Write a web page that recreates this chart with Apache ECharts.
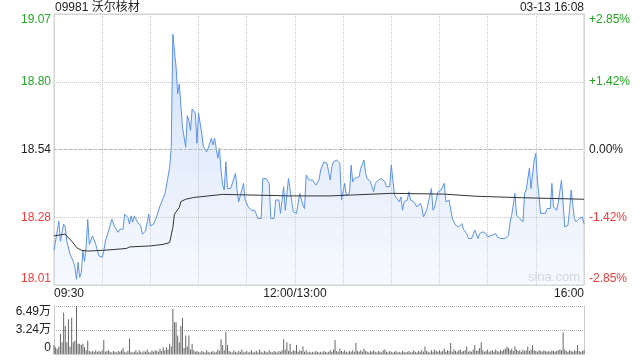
<!DOCTYPE html>
<html>
<head>
<meta charset="utf-8">
<script src="https://cdn.jsdelivr.net/npm/echarts@6/dist/echarts.min.js"></script>
<style>
html,body{margin:0;padding:0;background:#fff;}
#chart{width:640px;height:360px;}
</style>
</head>
<body>
<div id="chart"></div>
<script>
// ---- data ----
const stockTitle = '09981 沃尔核材';
const stampText = '03-13 16:08';
const prevClose = 18.54;

// minutes since 09:30 (lunch break removed: 150 = 12:00/13:00, 330 = 16:00)
const priceMinutes = [0,3,4,6,7,8,10,12,13,14,15,16,17,18,19,20,21,22,24,26,27,28,30,31,32,34,36,38,40,41,43,44,46,47,48,49,50,52,54,55,57,59,60,62,64,66,67,69,70,72,73,74,76,77,78,80,81,82,83,84,85,86,88,89,90,92,93,95,96,98,99,100,102,103,104,105,106,107,108,110,111,113,114,115,116,118,119,120,121,123,125,127,129,130,132,134,135,137,138,140,141,143,144,145,146,147,149,150,151,153,154,155,156,157,159,161,163,165,166,168,170,172,173,174,176,177,178,179,180,181,182,184,185,186,187,188,190,191,193,194,195,197,198,199,200,202,204,205,206,207,209,210,211,212,213,215,216,217,218,220,221,222,224,225,226,228,229,230,232,233,235,236,237,238,239,241,243,244,245,246,248,249,250,252,253,254,255,257,258,260,262,263,264,265,267,268,269,270,271,273,274,275,276,277,278,281,283,284,285,286,287,288,289,290,291,292,293,294,295,296,297,298,299,300,301,303,304,306,307,309,310,311,312,313,314,316,317,318,319,320,321,322,323,324,325,327,328,329,330];
const prices = [18.147,18.260,18.182,18.249,18.237,18.182,18.131,18.104,18.081,18.034,18.100,18.041,18.061,18.144,18.104,18.159,18.268,18.170,18.203,18.170,18.170,18.125,18.120,18.144,18.183,18.222,18.268,18.236,18.217,18.229,18.229,18.288,18.275,18.249,18.281,18.257,18.281,18.257,18.242,18.210,18.222,18.288,18.242,18.249,18.281,18.320,18.315,18.366,18.398,18.470,18.549,18.989,18.862,18.757,18.796,18.627,18.624,18.549,18.672,18.653,18.614,18.698,18.682,18.564,18.682,18.603,18.551,18.531,18.545,18.584,18.558,18.584,18.506,18.545,18.460,18.401,18.382,18.492,18.388,18.388,18.382,18.447,18.382,18.336,18.330,18.408,18.343,18.343,18.316,18.303,18.303,18.271,18.271,18.427,18.427,18.408,18.271,18.271,18.343,18.343,18.291,18.395,18.303,18.303,18.427,18.427,18.297,18.291,18.291,18.369,18.362,18.323,18.310,18.440,18.421,18.421,18.401,18.421,18.460,18.492,18.486,18.421,18.473,18.492,18.499,18.499,18.486,18.343,18.343,18.408,18.362,18.369,18.479,18.414,18.427,18.421,18.434,18.467,18.499,18.447,18.427,18.414,18.395,18.375,18.408,18.421,18.427,18.427,18.414,18.395,18.395,18.479,18.479,18.362,18.369,18.336,18.355,18.303,18.336,18.343,18.375,18.343,18.336,18.343,18.316,18.330,18.316,18.277,18.303,18.303,18.388,18.303,18.316,18.316,18.375,18.382,18.408,18.336,18.336,18.343,18.271,18.277,18.245,18.238,18.238,18.251,18.228,18.212,18.193,18.193,18.225,18.225,18.193,18.212,18.219,18.225,18.212,18.199,18.206,18.206,18.212,18.212,18.199,18.206,18.193,18.193,18.206,18.258,18.284,18.277,18.369,18.284,18.277,18.271,18.264,18.258,18.369,18.382,18.375,18.467,18.388,18.388,18.499,18.525,18.421,18.291,18.297,18.291,18.310,18.310,18.408,18.316,18.323,18.303,18.336,18.421,18.421,18.238,18.245,18.245,18.303,18.382,18.382,18.271,18.258,18.271,18.264,18.277,18.251];

const avgMinutes = [0,7,8,11,14,17,21,31,45,47,60,68,72,74,75,78,79,82,87,105,147,172,210,243,262,291,330];
const avgPrices = [18.203,18.210,18.202,18.183,18.158,18.147,18.144,18.147,18.154,18.160,18.164,18.170,18.177,18.236,18.288,18.314,18.337,18.346,18.353,18.365,18.359,18.359,18.369,18.366,18.358,18.352,18.346];

// volume per minute, in 万 shares (index = minute)
const volumes = [
 1.2,0.9,0.7,1.0,2.7,1.6,5.6,3.8,1.6,4.7,
 1.0,4.9,1.6,1.8,6.49,1.4,1.4,1.2,1.4,0.9,
 0.5,1.8,0.4,0.3,0.4,0.3,0.5,0.3,0.4,0.3,
 0.5,1.9,0.3,0.4,0.5,0.3,0.2,0.4,0.3,0.2,
 0.4,0.3,0.5,0.8,0.3,0.2,0.4,2.1,0.3,0.2,
 0.3,0.5,0.2,0.5,0.3,0.2,0.4,0.3,0.6,0.3,
 0.2,0.5,0.3,0.5,0.4,0.3,0.7,0.4,0.9,0.5,
 0.9,0.6,1.4,1.0,6.1,4.3,4.3,2.5,1.6,3.8,
 4.9,0.8,2.5,1.0,2.5,0.6,1.4,0.5,0.3,0.4,
 0.3,0.2,0.4,0.3,0.2,0.5,0.3,0.2,0.3,0.4,
 0.2,0.3,0.6,0.4,2.0,1.2,0.5,3.0,1.2,0.4,
 0.3,0.2,0.5,0.3,0.2,0.4,0.3,0.6,0.2,0.3,
 0.4,0.2,0.3,0.5,0.2,0.3,0.4,0.2,0.6,0.3,
 0.2,0.4,0.3,0.2,0.5,0.3,0.2,0.4,0.3,0.2,
 0.4,0.3,0.5,2.0,0.6,1.6,0.4,1.4,0.3,0.5,
 0.4,1.2,0.3,0.5,0.4,1.0,0.3,0.5,0.2,0.3,
 0.2,0.3,0.2,0.4,0.3,0.2,0.3,0.2,0.4,0.3,
 0.2,0.3,0.5,0.3,0.6,1.9,0.4,0.3,0.7,0.4,
 0.3,0.5,0.3,0.2,0.4,0.3,0.5,0.3,1.5,0.4,
 0.3,0.5,0.3,0.7,0.4,0.3,0.2,0.4,0.3,0.5,
 0.3,0.2,0.4,0.3,0.2,0.5,0.6,0.3,0.2,0.4,
 0.3,0.2,0.3,0.4,0.2,0.3,0.2,0.4,0.3,0.2,
 0.3,0.4,0.2,0.3,0.5,0.3,0.2,0.4,0.3,0.5,
 0.3,1.0,0.4,0.3,0.2,0.5,0.3,0.6,0.4,0.3,
 0.5,0.3,0.4,0.7,0.3,0.5,0.4,1.5,0.3,0.6,
 0.4,0.3,0.5,0.6,0.3,0.4,0.5,1.0,0.3,0.4,
 0.3,0.6,1.2,0.4,0.5,0.8,1.6,0.5,0.3,0.4,
 0.6,0.3,0.4,0.5,0.3,0.6,0.4,0.3,0.5,0.4,
 0.6,0.7,1.0,0.8,0.5,0.7,0.4,1.0,0.6,0.4,
 0.5,0.3,0.6,0.4,0.5,1.0,0.4,0.6,1.2,0.5,
 0.4,0.3,0.5,0.4,0.3,0.5,0.4,0.3,0.4,0.3,
 0.5,0.4,0.3,0.4,0.5,0.6,0.5,2.9,0.6,0.4,
 0.3,0.5,0.4,0.3,0.5,0.4,1.2,0.4,0.3,0.4,
 0.5
];

const timeTickMinutes = [0, 150, 330];
const timeTickLabels = ['09:30', '12:00/13:00', '16:00'];
const priceTickLabels = ['18.01', '18.28', '18.54', '18.80', '19.07'];
const pctTickLabels = ['-2.85%', '-1.42%', '0.00%', '+1.42%', '+2.85%'];
const volTickLabels = ['0', '3.24万', '6.49万'];

// ---- chart ----
const FONT = "'Liberation Sans', 'Noto Sans CJK SC', sans-serif";
const GREEN = '#22a822', RED = '#f23a3a', DARK = '#222';
const toPct = p => (p / prevClose - 1) * 100;
const tickIdx = v => Math.round((v + 2.85) / 1.425);
const tickStyle = i => (i < 2 ? 'r' : (i === 2 ? 'k' : 'g'));
const richStyles = { r: {color: RED, fontSize: 12, fontFamily: FONT}, g: {color: GREEN, fontSize: 12, fontFamily: FONT}, k: {color: DARK, fontSize: 12, fontFamily: FONT} };

const priceData = priceMinutes.map((m, i) => [m, toPct(prices[i])]);
const avgData = avgMinutes.map((m, i) => [m, toPct(avgPrices[i])]);
const volData = volumes.map((v, i) => [i, v]);

const chart = echarts.init(document.getElementById('chart'), null, {renderer: 'canvas'});
chart.setOption({
  animation: false,
  textStyle: {fontFamily: FONT},
  title: [
    {text: stockTitle, left: 55, top: 2, padding: 0, textStyle: {fontSize: 12, fontWeight: 'normal', color: DARK, fontFamily: FONT}},
    {text: stampText, right: 56, top: 2, padding: 0, textStyle: {fontSize: 12, fontWeight: 'normal', color: DARK, fontFamily: FONT}}
  ],
  grid: [
    {left: 54, right: 56, top: 14, bottom: 75, show: true, borderColor: '#ccc', borderWidth: 1},
    {left: 54, right: 56, top: 306, bottom: 6}
  ],
  xAxis: [
    {
      type: 'value', gridIndex: 0, min: 0, max: 330, interval: 30,
      axisLine: {show: false}, axisTick: {show: false},
      splitLine: {show: true, lineStyle: {type: 'dotted', color: '#c8c8c8'}},
      axisLabel: {
        margin: 3, fontSize: 12, color: DARK, fontFamily: FONT,
        alignMinLabel: 'left', alignMaxLabel: 'right',
        formatter: v => { const k = timeTickMinutes.indexOf(Math.round(v)); return k >= 0 ? timeTickLabels[k] : ''; }
      }
    },
    {
      type: 'value', gridIndex: 1, min: 0, max: 330, interval: 30,
      axisLine: {show: true, lineStyle: {color: '#ccc'}}, axisTick: {show: false},
      splitLine: {show: false}, axisLabel: {show: false}
    }
  ],
  yAxis: [
    {
      type: 'value', gridIndex: 0, position: 'left', min: -2.85, max: 2.85, interval: 1.425,
      axisLine: {show: false}, axisTick: {show: false},
      splitLine: {show: true, lineStyle: {type: 'dotted', color: '#c8c8c8'}},
      axisLabel: {
        margin: 3, fontSize: 12, fontFamily: FONT,
        verticalAlignMinLabel: 'bottom', verticalAlignMaxLabel: 'top',
        formatter: v => { const i = tickIdx(v); return '{' + tickStyle(i) + '|' + priceTickLabels[i] + '}'; },
        rich: richStyles
      }
    },
    {
      type: 'value', gridIndex: 0, position: 'right', min: -2.85, max: 2.85, interval: 1.425,
      axisLine: {show: false}, axisTick: {show: false}, splitLine: {show: false},
      axisLabel: {
        margin: 5, fontSize: 12, fontFamily: FONT,
        verticalAlignMinLabel: 'bottom', verticalAlignMaxLabel: 'top',
        formatter: v => { const i = tickIdx(v); return '{' + tickStyle(i) + '|' + pctTickLabels[i] + '}'; },
        rich: richStyles
      }
    },
    {
      type: 'value', gridIndex: 1, position: 'left', min: 0, max: 6.49, interval: 3.245,
      axisLine: {show: true, lineStyle: {color: '#ccc'}}, axisTick: {show: false},
      splitLine: {show: true, lineStyle: {type: 'dotted', color: '#b0b0b0'}},
      axisLabel: {
        margin: 3, fontSize: 12, color: DARK, fontFamily: FONT,
        verticalAlignMinLabel: 'bottom', verticalAlignMaxLabel: 'top',
        formatter: v => volTickLabels[Math.round(v / 3.245)]
      }
    },
    {
      type: 'value', gridIndex: 1, position: 'right', min: 0, max: 6.49, interval: 3.245,
      axisLine: {show: true, lineStyle: {color: '#ccc'}}, axisTick: {show: false},
      splitLine: {show: false}, axisLabel: {show: false}
    }
  ],
  graphic: [
    {type: 'text', right: 60, top: 271, style: {text: 'sina.com', fill: '#cfcfcf', font: "13px 'Liberation Sans', sans-serif"}, silent: true}
  ],
  series: [
    {
      type: 'line', xAxisIndex: 0, yAxisIndex: 0, data: priceData,
      showSymbol: false, symbol: 'none',
      lineStyle: {width: 1, color: '#5b92ea'},
      areaStyle: {origin: 'start', color: new echarts.graphic.LinearGradient(0, 0, 0, 1, [
        {offset: 0, color: 'rgba(110,158,235,0.45)'},
        {offset: 1, color: 'rgba(225,235,252,0.4)'}
      ])},
      markLine: {
        silent: true, symbol: 'none', label: {show: false},
        lineStyle: {type: [3, 2], color: '#b8b8b8', width: 1},
        data: [{yAxis: 0}]
      },
      z: 3
    },
    {
      type: 'line', xAxisIndex: 0, yAxisIndex: 0, data: avgData,
      showSymbol: false, symbol: 'none',
      lineStyle: {width: 1, color: '#333'}, z: 4
    },
    {
      type: 'bar', xAxisIndex: 1, yAxisIndex: 2, data: volData,
      barWidth: 1, itemStyle: {color: '#666'}
    }
  ]
});
</script>
</body>
</html>
